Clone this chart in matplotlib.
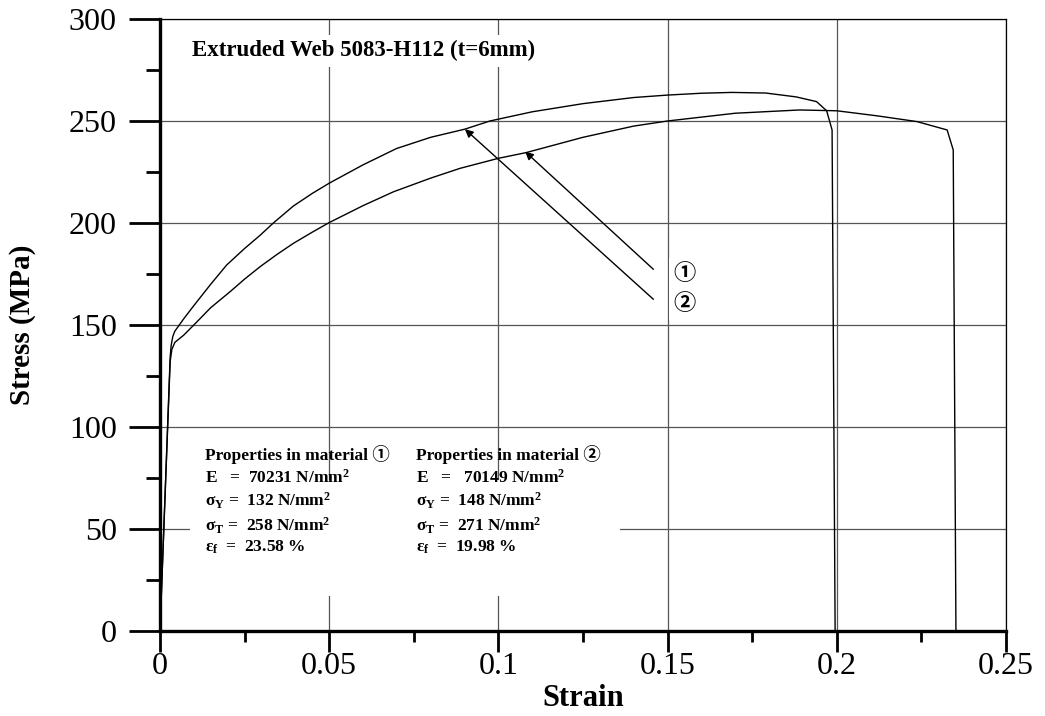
import matplotlib
matplotlib.use("Agg")
import matplotlib.pyplot as plt
from matplotlib.patches import Rectangle
from matplotlib.ticker import MultipleLocator

plt.rcParams['font.family'] = ['Liberation Serif', 'Noto Sans CJK JP', 'DejaVu Sans']
plt.rcParams['mathtext.fontset'] = 'custom'
plt.rcParams['mathtext.rm'] = 'Liberation Serif'
plt.rcParams['mathtext.bf'] = 'Liberation Serif:bold'
plt.rcParams['mathtext.it'] = 'Liberation Serif:italic'

# material 1 (lower curve, fails at ~23.6 %)
strain1 = [0, 0.0030, 0.0035, 0.0044, 0.007, 0.010, 0.015, 0.0207, 0.025, 0.0296,
           0.0345, 0.0394, 0.045, 0.05, 0.06, 0.069, 0.08, 0.0887, 0.1, 0.1082,
           0.125, 0.14, 0.15, 0.17, 0.189, 0.2, 0.212, 0.2237, 0.2326, 0.2344,
           0.2352]
stress1 = [0, 132, 138, 141.5, 145, 150, 158.5, 166.3, 172.5, 178.6,
           184.5, 190, 195.5, 200.2, 208.5, 215.3, 222, 226.8, 231.7, 234.5,
           242, 247.5, 250, 253.8, 255.4, 255, 252.5, 249.7, 245.6, 235.8,
           0]

# material 2 (upper curve, fails at ~20 %)
strain2 = [0, 0.0030, 0.0033, 0.0038, 0.0044, 0.007, 0.010, 0.015, 0.0197, 0.025,
           0.0296, 0.0335, 0.0394, 0.045, 0.05, 0.06, 0.0699, 0.08, 0.0901, 0.0975,
           0.11, 0.125, 0.14, 0.15, 0.16, 0.169, 0.179, 0.188, 0.194, 0.197,
           0.1986, 0.1995]
stress2 = [0, 134, 140, 144.5, 147, 153, 159.5, 170, 179.4, 187.5,
           194, 200, 208.3, 214.5, 219.5, 228.5, 236.5, 242, 246, 250,
           254.5, 258.5, 261.5, 262.7, 263.6, 264, 263.7, 261.8, 259.5, 255,
           245.6, 0]

x_ticks = [0, 0.05, 0.1, 0.15, 0.2, 0.25]
x_tick_labels = ['0', '0.05', '0.1', '0.15', '0.2', '0.25']
y_ticks = [0, 50, 100, 150, 200, 250, 300]

title = 'Extruded Web 5083-H112 (t=6mm)'
props1 = ['Properties in material \u2460',
          'E   =  70231 N/mm$^\\mathbf{2}$',
          '\u03c3$_\\mathbf{Y}$ =  132 N/mm$^\\mathbf{2}$',
          '\u03c3$_\\mathbf{T}$ =  258 N/mm$^\\mathbf{2}$',
          '\u03b5$_\\mathbf{f}$  =  23.58 %']
props2 = ['Properties in material \u2461',
          'E   =   70149 N/mm$^\\mathbf{2}$',
          '\u03c3$_\\mathbf{Y}$ =  148 N/mm$^\\mathbf{2}$',
          '\u03c3$_\\mathbf{T}$ =  271 N/mm$^\\mathbf{2}$',
          '\u03b5$_\\mathbf{f}$  =  19.98 %']

# arrow annotations: (label, point on curve, arrow tail, label position)
arrow1 = ('\u2460', (0.1079, 235.0), (0.1458, 177.3), (0.1516, 175.0))
arrow2 = ('\u2461', (0.0901, 246.0), (0.1458, 162.6), (0.1516, 160.3))

fig = plt.figure(figsize=(10.45, 7.16), dpi=100)
ax = fig.add_axes([0.1531, 0.1187, 0.8096, 0.8548])

ax.plot(strain1, stress1, color='black', lw=1.0, zorder=2)
ax.plot(strain2, stress2, color='black', lw=1.0, zorder=2)

ax.set_xlim(0, 0.25)
ax.set_ylim(0, 300)
ax.set_xticks(x_ticks)
ax.set_xticklabels(x_tick_labels)
ax.set_yticks(y_ticks)
ax.xaxis.set_minor_locator(MultipleLocator(0.025))
ax.yaxis.set_minor_locator(MultipleLocator(25))

ax.set_axisbelow(True)
ax.grid(True, which='major', color='#555555', lw=0.9)

for side in ['left', 'bottom']:
    ax.spines[side].set_linewidth(2.4)
for side in ['top', 'right']:
    ax.spines[side].set_linewidth(0.9)

ax.tick_params(axis='y', which='major', direction='out', length=22, width=2, pad=9, labelsize=23)
ax.tick_params(axis='y', which='minor', direction='out', length=10, width=2)
ax.tick_params(axis='x', which='major', direction='out', length=15, width=2, pad=0, labelsize=23)
ax.tick_params(axis='x', which='minor', direction='out', length=8, width=2)

ax.set_xlabel('Strain', fontsize=22, fontweight='bold')
ax.xaxis.set_label_coords(0.5, -0.086)
ax.set_ylabel('Stress (MPa)', fontsize=21, fontweight='bold')
ax.yaxis.set_label_coords(-0.162, 0.5)
ax.yaxis.label.set_va('center')

# blank area behind the property table
ax.add_patch(Rectangle((0.036, 0.057), 0.508, 0.19, transform=ax.transAxes,
                       facecolor='white', edgecolor='none', zorder=1))

ax.text(0.038, 0.948, title, transform=ax.transAxes, fontsize=16.5, fontweight='bold',
        va='center', ha='left', zorder=3,
        bbox=dict(facecolor='white', edgecolor='none', pad=4))

row_y = [0.289, 0.251, 0.213, 0.172, 0.137]
for i in range(len(props1)):
    ax.text(0.0532, row_y[i], props1[i], transform=ax.transAxes, fontsize=12.5,
            fontweight='bold', va='center', ha='left', zorder=3)
    ax.text(0.3027, row_y[i], props2[i], transform=ax.transAxes, fontsize=12.5,
            fontweight='bold', va='center', ha='left', zorder=3)

for label, tip, tail, pos in [arrow1, arrow2]:
    ax.annotate('', xy=tip, xytext=tail, xycoords='data', textcoords='data',
                arrowprops=dict(arrowstyle='-|>', color='black', lw=1.0,
                                mutation_scale=12, shrinkA=0, shrinkB=0),
                zorder=3)
    ax.text(pos[0], pos[1], label, fontsize=16, fontweight='bold', va='center',
            ha='left', zorder=3, family=['Noto Sans CJK JP', 'DejaVu Sans'],
            bbox=dict(facecolor='white', edgecolor='none', pad=3))

fig.savefig('out.png', dpi=100)
